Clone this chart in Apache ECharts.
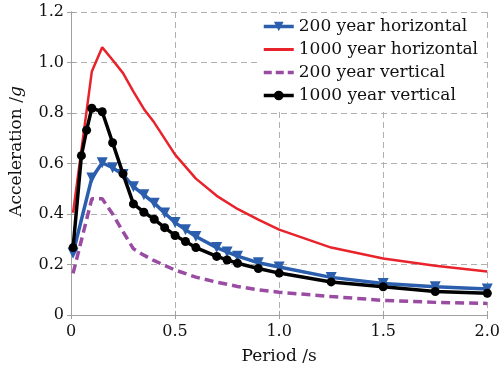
<!DOCTYPE html>
<html><head><meta charset="utf-8">
<script src="https://cdn.jsdelivr.net/npm/echarts@6/dist/echarts.min.js"></script>
<style>html,body{margin:0;padding:0;background:#fff}#c{width:503px;height:370px}</style>
</head><body><div id="c"></div>
<script>
var xTicks = [0, 0.5, 1.0, 1.5, 2.0];
var yTicks = [0, 0.2, 0.4, 0.6, 0.8, 1.0, 1.2];

var h200Period = [0.01,0.1,0.15,0.2,0.25,0.3,0.35,0.4,0.45,0.5,0.55,0.6,0.7,0.75,0.8,0.9,1.0,1.25,1.5,1.75,2.0];
var h200Value  = [0.245,0.543,0.603,0.583,0.556,0.508,0.476,0.443,0.404,0.366,0.338,0.311,0.267,0.25,0.233,0.207,0.19,0.149,0.125,0.112,0.103];

var h1000Period = [0.01,0.1,0.15,0.2,0.25,0.3,0.35,0.4,0.5,0.6,0.7,0.8,0.9,1.0,1.25,1.5,1.75,2.0];
var h1000Value  = [0.405,0.964,1.06,1.01,0.958,0.885,0.816,0.762,0.635,0.54,0.472,0.42,0.378,0.338,0.267,0.224,0.195,0.172];

var v200Period = [0.01,0.1,0.15,0.2,0.25,0.3,0.35,0.4,0.5,0.6,0.7,0.8,0.9,1.0,1.25,1.5,1.75,2.0];
var v200Value  = [0.165,0.46,0.46,0.40,0.33,0.262,0.237,0.215,0.178,0.15,0.13,0.113,0.1,0.09,0.073,0.058,0.05,0.046];

var v1000Period = [0.01,0.05,0.075,0.1,0.15,0.2,0.25,0.3,0.35,0.4,0.45,0.5,0.55,0.6,0.7,0.75,0.8,0.9,1.0,1.25,1.5,1.75,2.0];
var v1000Value  = [0.267,0.631,0.732,0.819,0.805,0.682,0.559,0.44,0.407,0.379,0.346,0.315,0.291,0.267,0.232,0.218,0.205,0.184,0.166,0.131,0.112,0.093,0.086];

function pairs(p, v){ return p.map(function(t,i){ return [t, v[i]]; }); }

var FONT = 'DejaVu Serif';
var chart = echarts.init(document.getElementById('c'), null, {renderer:'canvas'});
var gridLine = {show:true, lineStyle:{color:'#b0b0b0', type:[6,4], width:1}};
var frame = {show:true, lineStyle:{color:'#a0a0a0', width:1}};
var inTick = {show:true, inside:true, length:4, lineStyle:{color:'#a0a0a0'}};
var noSym = {opacity:0, color:'transparent', borderWidth:0};

chart.setOption({
  animation:false,
  backgroundColor:'#fff',
  grid:{left:69, right:14, top:12, bottom:54, containLabel:false},
  legend:{
    orient:'vertical', left:258, top:14, itemWidth:30, itemHeight:12, itemGap:6,
    backgroundColor:'#fff', padding:[4,6,4,4],
    textStyle:{fontFamily:FONT, fontSize:17, color:'#111'},
    data:[
      {name:'200 year horizontal', lineStyle:{width:3.5}},
      {name:'1000 year horizontal', itemStyle:noSym, lineStyle:{width:3}},
      {name:'200 year vertical', itemStyle:noSym, lineStyle:{width:3.5, type:[8,4]}},
      {name:'1000 year vertical', lineStyle:{width:3.5}}
    ]
  },
  xAxis:[{
    type:'value', min:xTicks[0], max:xTicks[xTicks.length-1], interval:0.5,
    axisLine:frame, axisTick:inTick, splitLine:gridLine,
    axisLabel:{fontFamily:FONT, fontSize:16, color:'#111', margin:9,
      formatter:function(v){ return v===0 ? '0' : v.toFixed(1); }},
    name:'Period /s', nameLocation:'middle', nameGap:33,
    nameTextStyle:{fontFamily:FONT, fontSize:17, color:'#111'}
  },{
    type:'value', position:'top', min:xTicks[0], max:xTicks[xTicks.length-1], interval:0.5,
    axisLine:frame, axisTick:inTick, axisLabel:{show:false}, splitLine:{show:false}
  }],
  yAxis:[{
    type:'value', min:yTicks[0], max:yTicks[yTicks.length-1], interval:0.2,
    axisLine:frame, axisTick:inTick, splitLine:gridLine,
    axisLabel:{fontFamily:FONT, fontSize:16, color:'#111', margin:7,
      formatter:function(v){ return v===0 ? '0' : v.toFixed(1); }},
    name:'{a|Acceleration /}{i|g}', nameLocation:'middle', nameGap:46, nameRotate:90,
    nameTextStyle:{fontFamily:FONT, fontSize:17, color:'#111', padding:[0,0,0,24],
      rich:{a:{fontFamily:FONT, fontSize:17, color:'#111'}, i:{fontFamily:FONT, fontSize:17, fontStyle:'italic', color:'#111'}}}
  },{
    type:'value', position:'right', min:yTicks[0], max:yTicks[yTicks.length-1], interval:0.2,
    axisLine:frame, axisTick:inTick, axisLabel:{show:false}, splitLine:{show:false}
  }],
  series:[
    {name:'200 year horizontal', type:'line', data:pairs(h200Period,h200Value),
     symbol:'triangle', symbolRotate:180, symbolSize:11, showAllSymbol:true,
     lineStyle:{color:'#2b5fae', width:3.5}, itemStyle:{color:'#2b5fae'}, z:3},
    {name:'1000 year horizontal', type:'line', data:pairs(h1000Period,h1000Value),
     symbol:'none', lineStyle:{color:'#e8232b', width:2.5}, itemStyle:{color:'#e8232b'}, z:2},
    {name:'200 year vertical', type:'line', data:pairs(v200Period,v200Value),
     symbol:'none', lineStyle:{color:'#9a4ca3', width:3.5, type:[9,5]}, itemStyle:{color:'#9a4ca3'}, z:2},
    {name:'1000 year vertical', type:'line', data:pairs(v1000Period,v1000Value),
     symbol:'circle', symbolSize:9, showAllSymbol:true,
     lineStyle:{color:'#000', width:3.5}, itemStyle:{color:'#000'}, z:4}
  ]
});
</script></body></html>
